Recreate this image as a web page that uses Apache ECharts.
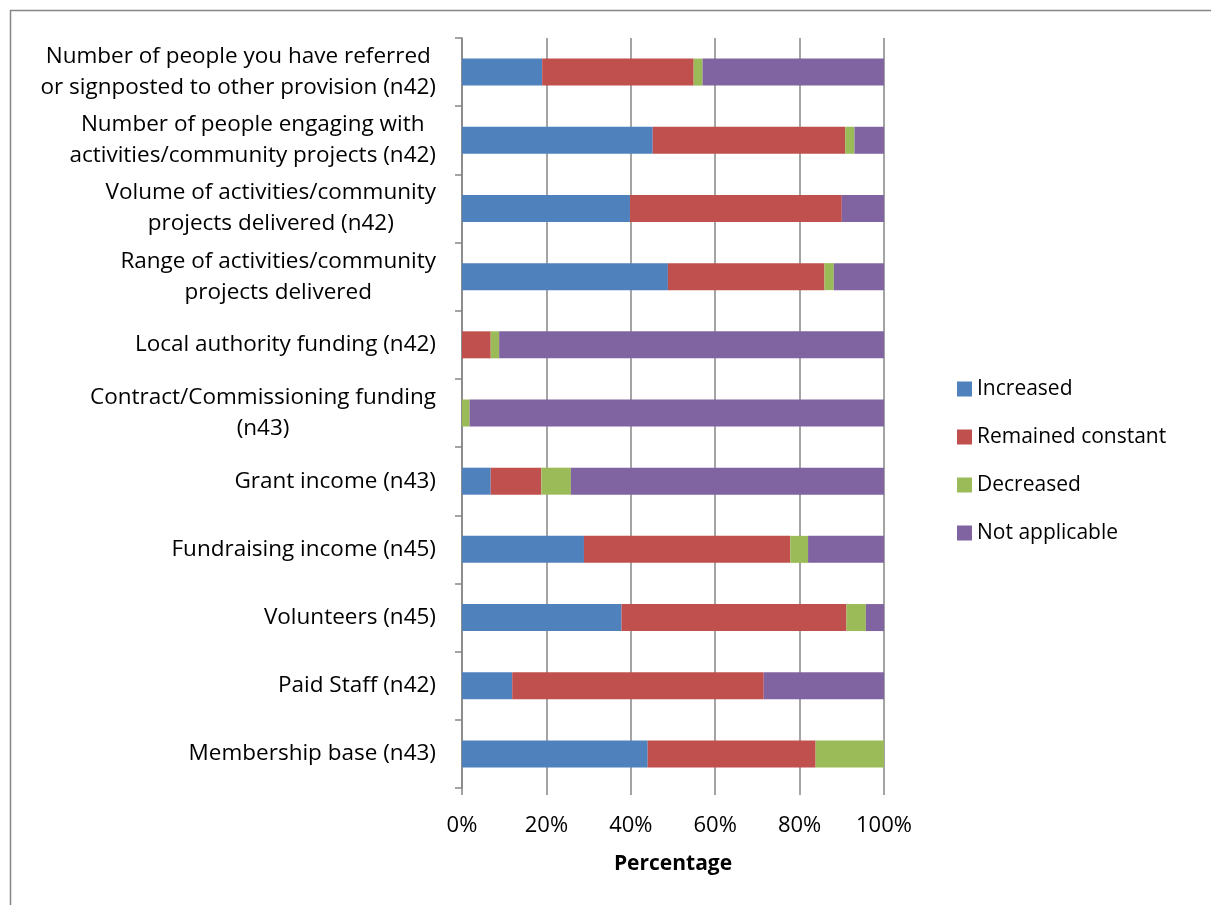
<!DOCTYPE html>
<html>
<head>
<meta charset="utf-8">
<script src="https://cdn.jsdelivr.net/npm/echarts@6/dist/echarts.min.js"></script>
<style>
  html, body { margin: 0; padding: 0; background: #fff; }
  #chart { width: 1211px; height: 905px; }
</style>
</head>
<body>
<div id="chart"></div>
<script>
// Survey items, top to bottom
const categories = [
  'Number of people you have referred\nor signposted to other provision (n42)',
  'Number of people engaging with\nactivities/community projects (n42)',
  'Volume of activities/community\nprojects delivered (n42)',
  'Range of activities/community\nprojects delivered',
  'Local authority funding (n42)',
  'Contract/Commissioning funding\n(n43)',
  'Grant income (n43)',
  'Fundraising income (n45)',
  'Volunteers (n45)',
  'Paid Staff (n42)',
  'Membership base (n43)'
];

// Share of respondents (%) per answer
const increased        = [19.0, 45.2, 39.8, 48.8, 0,   0,    6.8,  28.9, 37.8, 11.9, 44.0];
const remainedConstant = [35.9, 45.6, 50.2, 37.1, 6.8, 0,    12.0, 48.9, 53.3, 59.6, 39.8];
const decreased        = [2.1,  2.2,  0,    2.2,  2.0, 1.8,  7.0,  4.2,  4.6,  0,    16.2];
const notApplicable    = [43.0, 7.0,  10.0, 11.9, 91.2, 98.2, 74.2, 18.0, 4.3, 28.5, 0];

const xTicks = [0, 20, 40, 60, 80, 100];

const FONT = '"Open Sans", "Noto Sans", sans-serif';
const FONT_SIZE = 22.5;
const GRID_GREY = '#868686';

const chart = echarts.init(document.getElementById('chart'), null, { renderer: 'canvas' });

function barSeries(name, data, color) {
  return {
    name: name,
    type: 'bar',
    stack: 'total',
    barWidth: 27,
    data: data,
    itemStyle: { color: color },
    emphasis: { disabled: true }
  };
}

chart.setOption({
  animation: false,
  backgroundColor: '#fff',
  textStyle: { fontFamily: FONT },
  graphic: [{
    type: 'rect',
    left: 8, top: 8,
    shape: { width: 1400, height: 1100 },
    style: { fill: 'none', stroke: GRID_GREY, lineWidth: 1.5 },
    silent: true
  }],
  grid: { left: 462, right: 327, top: 38, bottom: 117, containLabel: false },
  legend: {
    orient: 'vertical',
    left: 952,
    top: 371,
    padding: 5,
    icon: 'rect',
    itemWidth: 15,
    itemHeight: 15,
    itemGap: 22,
    textStyle: { fontFamily: FONT, fontSize: 21, color: '#000', lineHeight: 26 },
    data: ['Increased', 'Remained constant', 'Decreased', 'Not applicable']
  },
  xAxis: {
    type: 'value',
    min: 0,
    max: 100,
    interval: 20,
    name: 'Percentage',
    nameLocation: 'middle',
    nameGap: 66,
    nameTextStyle: { fontFamily: FONT, fontSize: 21, fontWeight: 'bold', color: '#000' },
    axisLine: { show: false },
    axisTick: { show: true, length: 7, lineStyle: { color: GRID_GREY, width: 1.5 } },
    splitLine: { show: true, lineStyle: { color: GRID_GREY, width: 1.5 } },
    axisLabel: {
      margin: 27,
      fontFamily: FONT,
      fontSize: 22,
      color: '#000',
      customValues: xTicks,
      formatter: v => v + '%'
    }
  },
  yAxis: {
    type: 'category',
    inverse: true,
    data: categories,
    axisLine: { show: true, lineStyle: { color: GRID_GREY, width: 1.5 } },
    axisTick: { show: true, length: 7, alignWithLabel: false, lineStyle: { color: GRID_GREY, width: 1.5 } },
    splitLine: { show: false },
    axisLabel: {
      margin: 26,
      align: 'right',
      color: '#000',
      fontFamily: FONT,
      fontSize: FONT_SIZE,
      lineHeight: 31,
      formatter: v => v.split('\n').map(l => '{c|' + l + '}').join('\n'),
      rich: {
        c: { align: 'center', fontFamily: FONT, fontSize: FONT_SIZE, lineHeight: 31, color: '#000' }
      }
    }
  },
  series: [
    barSeries('Increased', increased, '#4F81BD'),
    barSeries('Remained constant', remainedConstant, '#C0504D'),
    barSeries('Decreased', decreased, '#9BBB59'),
    barSeries('Not applicable', notApplicable, '#8064A2')
  ]
});
</script>
</body>
</html>
